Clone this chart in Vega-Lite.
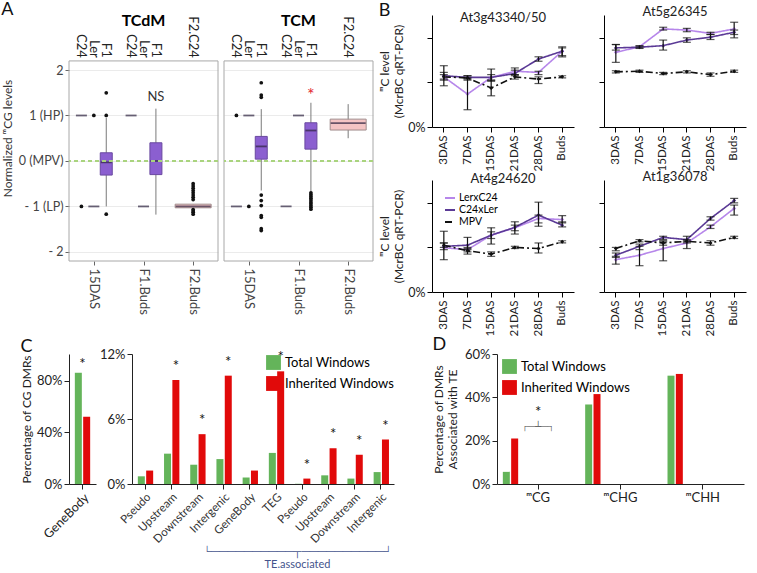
{
"$schema": "https://vega.github.io/schema/vega-lite/v6.json",
"background": "white",
"padding": 1,
"config": {
  "font": "Lato",
  "view": {"stroke": null},
  "axis": {"labelFont": "Lato", "titleFont": "Lato", "labelColor": "#222", "titleColor": "#222", "titleFontWeight": "normal", "grid": false, "domainColor": "#222", "tickColor": "#222", "labelOverlap": false, "labelFlush": false, "labelBound": false},
  "legend": {"labelFont": "Lato"},
  "title": {"font": "Lato", "fontWeight": "normal", "color": "#111"},
  "text": {"font": "Lato"}
},
"datasets": {
  "boxA": [
    {"panel": "TCdM", "key": "15DAS|C24", "geno": "C24", "lo": 1, "q1": 1, "med": 1, "q3": 1, "hi": 1},
    {"panel": "TCdM", "key": "15DAS|Ler", "geno": "Ler", "lo": -1, "q1": -1, "med": -1, "q3": -1, "hi": -1},
    {"panel": "TCdM", "key": "15DAS|F1", "geno": "F1", "lo": -1.0, "q1": -0.31, "med": -0.03, "q3": 0.18, "hi": 0.95},
    {"panel": "TCdM", "key": "F1.Buds|C24", "geno": "C24", "lo": 1, "q1": 1, "med": 1, "q3": 1, "hi": 1},
    {"panel": "TCdM", "key": "F1.Buds|Ler", "geno": "Ler", "lo": -1, "q1": -1, "med": -1, "q3": -1, "hi": -1},
    {"panel": "TCdM", "key": "F1.Buds|F1", "geno": "F1", "lo": -1.18, "q1": -0.3, "med": 0.0, "q3": 0.4, "hi": 1.15},
    {"panel": "TCdM", "key": "F2.Buds|F2.C24", "geno": "F2.C24", "lo": -1.03, "q1": -1.03, "med": -1.0, "q3": -0.95, "hi": -0.95},
    {"panel": "TCM", "key": "15DAS|C24", "geno": "C24", "lo": -1, "q1": -1, "med": -1, "q3": -1, "hi": -1},
    {"panel": "TCM", "key": "15DAS|Ler", "geno": "Ler", "lo": 1, "q1": 1, "med": 1, "q3": 1, "hi": 1},
    {"panel": "TCM", "key": "15DAS|F1", "geno": "F1", "lo": -0.65, "q1": 0.04, "med": 0.32, "q3": 0.54, "hi": 1.14},
    {"panel": "TCM", "key": "F1.Buds|C24", "geno": "C24", "lo": -1, "q1": -1, "med": -1, "q3": -1, "hi": -1},
    {"panel": "TCM", "key": "F1.Buds|Ler", "geno": "Ler", "lo": 1, "q1": 1, "med": 1, "q3": 1, "hi": 1},
    {"panel": "TCM", "key": "F1.Buds|F1", "geno": "F1", "lo": -0.68, "q1": 0.26, "med": 0.67, "q3": 0.84, "hi": 1.28},
    {"panel": "TCM", "key": "F2.Buds|F2.C24", "geno": "F2.C24", "lo": 0.5, "q1": 0.68, "med": 0.83, "q3": 0.92, "hi": 1.25}
  ],
  "outA": [
    {"panel": "TCdM", "key": "15DAS|C24", "v": -1},
    {"panel": "TCdM", "key": "15DAS|Ler", "v": 1},
    {"panel": "TCdM", "key": "15DAS|F1", "v": 1.5},
    {"panel": "TCdM", "key": "15DAS|F1", "v": 1.0},
    {"panel": "TCdM", "key": "15DAS|F1", "v": -1.17},
    {"panel": "TCdM", "key": "F2.Buds|F2.C24", "v": -0.5},
    {"panel": "TCdM", "key": "F2.Buds|F2.C24", "v": -0.55},
    {"panel": "TCdM", "key": "F2.Buds|F2.C24", "v": -0.6},
    {"panel": "TCdM", "key": "F2.Buds|F2.C24", "v": -0.65},
    {"panel": "TCdM", "key": "F2.Buds|F2.C24", "v": -0.7},
    {"panel": "TCdM", "key": "F2.Buds|F2.C24", "v": -0.75},
    {"panel": "TCdM", "key": "F2.Buds|F2.C24", "v": -0.8},
    {"panel": "TCdM", "key": "F2.Buds|F2.C24", "v": -0.85},
    {"panel": "TCdM", "key": "F2.Buds|F2.C24", "v": -1.07},
    {"panel": "TCdM", "key": "F2.Buds|F2.C24", "v": -1.1},
    {"panel": "TCdM", "key": "F2.Buds|F2.C24", "v": -1.13},
    {"panel": "TCdM", "key": "F2.Buds|F2.C24", "v": -1.17},
    {"panel": "TCM", "key": "15DAS|C24", "v": 1},
    {"panel": "TCM", "key": "15DAS|Ler", "v": -1},
    {"panel": "TCM", "key": "15DAS|F1", "v": 1.72},
    {"panel": "TCM", "key": "15DAS|F1", "v": 1.45},
    {"panel": "TCM", "key": "15DAS|F1", "v": 1.4},
    {"panel": "TCM", "key": "15DAS|F1", "v": -0.75},
    {"panel": "TCM", "key": "15DAS|F1", "v": -0.87},
    {"panel": "TCM", "key": "15DAS|F1", "v": -0.98},
    {"panel": "TCM", "key": "15DAS|F1", "v": -1.2},
    {"panel": "TCM", "key": "15DAS|F1", "v": -1.24},
    {"panel": "TCM", "key": "15DAS|F1", "v": -1.49},
    {"panel": "TCM", "key": "15DAS|F1", "v": -1.53},
    {"panel": "TCM", "key": "F1.Buds|F1", "v": -0.7},
    {"panel": "TCM", "key": "F1.Buds|F1", "v": -0.74},
    {"panel": "TCM", "key": "F1.Buds|F1", "v": -0.78},
    {"panel": "TCM", "key": "F1.Buds|F1", "v": -0.82},
    {"panel": "TCM", "key": "F1.Buds|F1", "v": -0.86},
    {"panel": "TCM", "key": "F1.Buds|F1", "v": -0.9},
    {"panel": "TCM", "key": "F1.Buds|F1", "v": -0.94},
    {"panel": "TCM", "key": "F1.Buds|F1", "v": -0.98},
    {"panel": "TCM", "key": "F1.Buds|F1", "v": -1.02},
    {"panel": "TCM", "key": "F1.Buds|F1", "v": -1.06}
  ],
  "annA": [
    {"panel": "TCdM", "key": "F1.Buds|F1", "v": 1.4, "label": "NS"},
    {"panel": "TCM", "key": "F1.Buds|F1", "v": 1.42, "label": "*"}
  ],
  "lines": [
    {"gene": "At3g43340/50", "stage": "3DAS", "series": "LerxC24", "v": 45, "lo": 37, "hi": 55},
    {"gene": "At3g43340/50", "stage": "7DAS", "series": "LerxC24", "v": 29.5, "lo": 15.5, "hi": 44},
    {"gene": "At3g43340/50", "stage": "15DAS", "series": "LerxC24", "v": 44.5, "lo": 41, "hi": 52},
    {"gene": "At3g43340/50", "stage": "21DAS", "series": "LerxC24", "v": 50, "lo": 47, "hi": 53},
    {"gene": "At3g43340/50", "stage": "28DAS", "series": "LerxC24", "v": 49, "lo": 47, "hi": 50},
    {"gene": "At3g43340/50", "stage": "Buds", "series": "LerxC24", "v": 68, "lo": 63, "hi": 72},
    {"gene": "At3g43340/50", "stage": "3DAS", "series": "C24xLer", "v": 46, "lo": 42, "hi": 49},
    {"gene": "At3g43340/50", "stage": "7DAS", "series": "C24xLer", "v": 44.5, "lo": 43, "hi": 46},
    {"gene": "At3g43340/50", "stage": "15DAS", "series": "C24xLer", "v": 44.5, "lo": 42, "hi": 47},
    {"gene": "At3g43340/50", "stage": "21DAS", "series": "C24xLer", "v": 48, "lo": 46, "hi": 51},
    {"gene": "At3g43340/50", "stage": "28DAS", "series": "C24xLer", "v": 61, "lo": 59, "hi": 63},
    {"gene": "At3g43340/50", "stage": "Buds", "series": "C24xLer", "v": 68, "lo": 64, "hi": 71},
    {"gene": "At3g43340/50", "stage": "3DAS", "series": "MPV", "v": 45, "lo": 43, "hi": 47},
    {"gene": "At3g43340/50", "stage": "7DAS", "series": "MPV", "v": 44, "lo": 42, "hi": 46},
    {"gene": "At3g43340/50", "stage": "15DAS", "series": "MPV", "v": 35, "lo": 28, "hi": 42},
    {"gene": "At3g43340/50", "stage": "21DAS", "series": "MPV", "v": 45, "lo": 43, "hi": 47},
    {"gene": "At3g43340/50", "stage": "28DAS", "series": "MPV", "v": 43, "lo": 39, "hi": 45},
    {"gene": "At3g43340/50", "stage": "Buds", "series": "MPV", "v": 45, "lo": 44, "hi": 46},
    {"gene": "At5g26345", "stage": "3DAS", "series": "LerxC24", "v": 67, "lo": 58, "hi": 74},
    {"gene": "At5g26345", "stage": "7DAS", "series": "LerxC24", "v": 72, "lo": 71, "hi": 73},
    {"gene": "At5g26345", "stage": "15DAS", "series": "LerxC24", "v": 88, "lo": 87, "hi": 89.5},
    {"gene": "At5g26345", "stage": "21DAS", "series": "LerxC24", "v": 87, "lo": 85.5, "hi": 88.5},
    {"gene": "At5g26345", "stage": "28DAS", "series": "LerxC24", "v": 84, "lo": 83, "hi": 85},
    {"gene": "At5g26345", "stage": "Buds", "series": "LerxC24", "v": 88, "lo": 80, "hi": 94},
    {"gene": "At5g26345", "stage": "3DAS", "series": "C24xLer", "v": 71, "lo": 69, "hi": 74},
    {"gene": "At5g26345", "stage": "7DAS", "series": "C24xLer", "v": 71.6, "lo": 70.5, "hi": 72.5},
    {"gene": "At5g26345", "stage": "15DAS", "series": "C24xLer", "v": 73, "lo": 69, "hi": 78},
    {"gene": "At5g26345", "stage": "21DAS", "series": "C24xLer", "v": 78, "lo": 76, "hi": 80},
    {"gene": "At5g26345", "stage": "28DAS", "series": "C24xLer", "v": 80.6, "lo": 78.5, "hi": 83},
    {"gene": "At5g26345", "stage": "Buds", "series": "C24xLer", "v": 85, "lo": 83, "hi": 87},
    {"gene": "At5g26345", "stage": "3DAS", "series": "MPV", "v": 49.5, "lo": 48.5, "hi": 50.5},
    {"gene": "At5g26345", "stage": "7DAS", "series": "MPV", "v": 50, "lo": 49, "hi": 51},
    {"gene": "At5g26345", "stage": "15DAS", "series": "MPV", "v": 48, "lo": 47, "hi": 49},
    {"gene": "At5g26345", "stage": "21DAS", "series": "MPV", "v": 49.5, "lo": 48.5, "hi": 50.5},
    {"gene": "At5g26345", "stage": "28DAS", "series": "MPV", "v": 47, "lo": 45.5, "hi": 48.5},
    {"gene": "At5g26345", "stage": "Buds", "series": "MPV", "v": 50, "lo": 49, "hi": 51},
    {"gene": "At4g24620", "stage": "3DAS", "series": "LerxC24", "v": 39.7, "lo": 29, "hi": 44},
    {"gene": "At4g24620", "stage": "7DAS", "series": "LerxC24", "v": 38, "lo": 36, "hi": 40},
    {"gene": "At4g24620", "stage": "15DAS", "series": "LerxC24", "v": 51, "lo": 43, "hi": 57.6},
    {"gene": "At4g24620", "stage": "21DAS", "series": "LerxC24", "v": 57.6, "lo": 52, "hi": 60},
    {"gene": "At4g24620", "stage": "28DAS", "series": "LerxC24", "v": 66, "lo": 59, "hi": 69},
    {"gene": "At4g24620", "stage": "Buds", "series": "LerxC24", "v": 65, "lo": 62, "hi": 68.5},
    {"gene": "At4g24620", "stage": "3DAS", "series": "C24xLer", "v": 41, "lo": 38, "hi": 54.5},
    {"gene": "At4g24620", "stage": "7DAS", "series": "C24xLer", "v": 42, "lo": 38, "hi": 49},
    {"gene": "At4g24620", "stage": "15DAS", "series": "C24xLer", "v": 51, "lo": 48, "hi": 54},
    {"gene": "At4g24620", "stage": "21DAS", "series": "C24xLer", "v": 58, "lo": 55, "hi": 63},
    {"gene": "At4g24620", "stage": "28DAS", "series": "C24xLer", "v": 69, "lo": 62, "hi": 80.6},
    {"gene": "At4g24620", "stage": "Buds", "series": "C24xLer", "v": 60, "lo": 58.5, "hi": 63},
    {"gene": "At4g24620", "stage": "3DAS", "series": "MPV", "v": 42, "lo": 40, "hi": 44},
    {"gene": "At4g24620", "stage": "7DAS", "series": "MPV", "v": 37, "lo": 34, "hi": 39},
    {"gene": "At4g24620", "stage": "15DAS", "series": "MPV", "v": 34, "lo": 32, "hi": 36},
    {"gene": "At4g24620", "stage": "21DAS", "series": "MPV", "v": 40, "lo": 39, "hi": 41},
    {"gene": "At4g24620", "stage": "28DAS", "series": "MPV", "v": 39, "lo": 35, "hi": 44},
    {"gene": "At4g24620", "stage": "Buds", "series": "MPV", "v": 45, "lo": 44, "hi": 46},
    {"gene": "At1g36078", "stage": "3DAS", "series": "LerxC24", "v": 29, "lo": 25, "hi": 32},
    {"gene": "At1g36078", "stage": "7DAS", "series": "LerxC24", "v": 33, "lo": 23.6, "hi": 41},
    {"gene": "At1g36078", "stage": "15DAS", "series": "LerxC24", "v": 39, "lo": 28, "hi": 45},
    {"gene": "At1g36078", "stage": "21DAS", "series": "LerxC24", "v": 44, "lo": 39, "hi": 46},
    {"gene": "At1g36078", "stage": "28DAS", "series": "LerxC24", "v": 58.5, "lo": 57, "hi": 60},
    {"gene": "At1g36078", "stage": "Buds", "series": "LerxC24", "v": 75, "lo": 69, "hi": 78},
    {"gene": "At1g36078", "stage": "3DAS", "series": "C24xLer", "v": 33, "lo": 31, "hi": 35},
    {"gene": "At1g36078", "stage": "7DAS", "series": "C24xLer", "v": 41, "lo": 38, "hi": 43},
    {"gene": "At1g36078", "stage": "15DAS", "series": "C24xLer", "v": 49, "lo": 47, "hi": 50},
    {"gene": "At1g36078", "stage": "21DAS", "series": "C24xLer", "v": 47, "lo": 45, "hi": 50},
    {"gene": "At1g36078", "stage": "28DAS", "series": "C24xLer", "v": 66, "lo": 64.5, "hi": 67.5},
    {"gene": "At1g36078", "stage": "Buds", "series": "C24xLer", "v": 82, "lo": 80, "hi": 84},
    {"gene": "At1g36078", "stage": "3DAS", "series": "MPV", "v": 39, "lo": 37, "hi": 40},
    {"gene": "At1g36078", "stage": "7DAS", "series": "MPV", "v": 46, "lo": 45, "hi": 47},
    {"gene": "At1g36078", "stage": "15DAS", "series": "MPV", "v": 44, "lo": 42, "hi": 46},
    {"gene": "At1g36078", "stage": "21DAS", "series": "MPV", "v": 45.5, "lo": 44, "hi": 47},
    {"gene": "At1g36078", "stage": "28DAS", "series": "MPV", "v": 44, "lo": 42, "hi": 46},
    {"gene": "At1g36078", "stage": "Buds", "series": "MPV", "v": 49, "lo": 48, "hi": 50}
  ],
  "cgb": [
    {"region": "GeneBody", "type": "Total Windows", "pct": 86, "sig": true},
    {"region": "GeneBody", "type": "Inherited Windows", "pct": 52, "sig": true}
  ],
  "regions": [
    {"region": "Pseudo", "type": "Total Windows", "pct": 0.71, "sig": false},
    {"region": "Pseudo", "type": "Inherited Windows", "pct": 1.24, "sig": false},
    {"region": "Upstream", "type": "Total Windows", "pct": 2.8, "sig": true},
    {"region": "Upstream", "type": "Inherited Windows", "pct": 9.6, "sig": true},
    {"region": "Downstream", "type": "Total Windows", "pct": 1.78, "sig": true},
    {"region": "Downstream", "type": "Inherited Windows", "pct": 4.6, "sig": true},
    {"region": "Intergenic", "type": "Total Windows", "pct": 2.3, "sig": true},
    {"region": "Intergenic", "type": "Inherited Windows", "pct": 10.0, "sig": true},
    {"region": "TE.GeneBody", "type": "Total Windows", "pct": 0.6, "sig": false},
    {"region": "TE.GeneBody", "type": "Inherited Windows", "pct": 1.24, "sig": false},
    {"region": "TE.TEG", "type": "Total Windows", "pct": 2.87, "sig": true},
    {"region": "TE.TEG", "type": "Inherited Windows", "pct": 10.4, "sig": true},
    {"region": "TE.Pseudo", "type": "Total Windows", "pct": 0.02, "sig": true},
    {"region": "TE.Pseudo", "type": "Inherited Windows", "pct": 0.5, "sig": true},
    {"region": "TE.Upstream", "type": "Total Windows", "pct": 0.8, "sig": true},
    {"region": "TE.Upstream", "type": "Inherited Windows", "pct": 3.3, "sig": true},
    {"region": "TE.Downstream", "type": "Total Windows", "pct": 0.5, "sig": true},
    {"region": "TE.Downstream", "type": "Inherited Windows", "pct": 2.7, "sig": true},
    {"region": "TE.Intergenic", "type": "Total Windows", "pct": 1.1, "sig": true},
    {"region": "TE.Intergenic", "type": "Inherited Windows", "pct": 4.1, "sig": true}
  ],
  "dmr": [
    {"cat": "ᵐCG", "type": "Total Windows", "pct": 5.6, "sig": true},
    {"cat": "ᵐCG", "type": "Inherited Windows", "pct": 21, "sig": true},
    {"cat": "ᵐCHG", "type": "Total Windows", "pct": 36.7, "sig": false},
    {"cat": "ᵐCHG", "type": "Inherited Windows", "pct": 41.5, "sig": false},
    {"cat": "ᵐCHH", "type": "Total Windows", "pct": 50, "sig": false},
    {"cat": "ᵐCHH", "type": "Inherited Windows", "pct": 50.8, "sig": false}
  ]
},
"spacing": 0,
"resolve": {"scale": {"color": "independent", "fill": "independent", "strokeDash": "independent"}, "legend": {"color": "independent", "fill": "independent", "strokeDash": "independent"}},
"vconcat": [
 {
  "spacing": 4,
  "resolve": {"scale": {"color": "independent", "fill": "independent", "strokeDash": "independent"}, "legend": {"color": "independent", "fill": "independent", "strokeDash": "independent"}},
  "hconcat": [
   {
    "title": {"text": "A", "anchor": "start", "fontSize": 18, "offset": -6},
    "spacing": 4,
    "hconcat": [
     {
      "width": 149, "height": 246,
      "title": {"text": "TCdM", "fontSize": 16, "fontWeight": "bold", "color": "#000", "offset": -14},
      "layer": [
       {"data": {"name": "boxA"}, "transform": [{"filter": "datum.panel == 'TCdM'"}],
        "mark": {"type": "rule", "color": "#7a7a7a", "strokeWidth": 1},
        "encoding": {
         "x": {"field": "key", "type": "nominal", "scale": {"type": "point", "domain": ["15DAS|C24","15DAS|Ler","15DAS|F1","s1","F1.Buds|C24","F1.Buds|Ler","F1.Buds|F1","s2","s3","F2.Buds|F2.C24","s4"], "padding": 1.25},
               "axis": {"orient": "bottom", "values": ["15DAS|Ler","F1.Buds|Ler","F2.Buds|F2.C24"], "labelExpr": "split(datum.value, '|')[0]", "labelAngle": 90, "title": null, "domain": false, "tickSize": 4, "tickColor": "#666", "labelFontSize": 13, "labelColor": "#444", "labelPadding": 3}},
         "y": {"field": "lo", "type": "quantitative", "scale": {"domain": [-2.2, 3.21], "nice": false, "zero": false},
               "axis": {"values": [-2, -1, 0, 1, 2], "labelExpr": "datum.value == 2 ? '2' : datum.value == 1 ? '1 (HP)' : datum.value == 0 ? '0 (MPV)' : datum.value == -1 ? '- 1 (LP)' : '- 2'", "grid": true, "gridColor": "#ebebeb", "domain": false, "tickSize": 4, "tickColor": "#666", "labelFontSize": 12.5, "labelColor": "#444", "labelPadding": 2, "title": "Normalized ᵐCG levels", "titleFontSize": 12, "titleColor": "#333", "titlePadding": 4}},
         "y2": {"field": "hi"}
        }},
       {"data": {"name": "boxA"}, "transform": [{"filter": "datum.panel == 'TCdM' && datum.key == '15DAS|C24'"}],
        "mark": {"type": "rect", "fillOpacity": 0, "stroke": "#a8a8a8", "strokeWidth": 1},
        "encoding": {"y": {"datum": -2.2, "type": "quantitative"}, "y2": {"datum": 2.2}}},
       {"data": {"name": "boxA"}, "transform": [{"filter": "datum.panel == 'TCdM' && datum.geno == 'F1'"}],
        "mark": {"type": "bar", "width": 12, "fill": "#8b5fd0", "stroke": "#6a49a0", "strokeWidth": 1},
        "encoding": {"x": {"field": "key", "type": "nominal"}, "y": {"field": "q1", "type": "quantitative"}, "y2": {"field": "q3"}}},
       {"data": {"name": "boxA"}, "transform": [{"filter": "datum.panel == 'TCdM' && datum.geno == 'F2.C24'"}],
        "mark": {"type": "bar", "width": 36, "fill": "#f4c4c4", "stroke": "#a08c8c", "strokeWidth": 1},
        "encoding": {"x": {"field": "key", "type": "nominal"}, "y": {"field": "q1", "type": "quantitative"}, "y2": {"field": "q3"}}},
       {"data": {"name": "boxA"}, "transform": [{"filter": "datum.panel == 'TCdM' && datum.geno != 'F2.C24'"}],
        "mark": {"type": "tick", "size": 11, "thickness": 1.8, "color": "#2e2440"},
        "encoding": {"x": {"field": "key", "type": "nominal"}, "y": {"field": "med", "type": "quantitative"}}},
       {"data": {"name": "boxA"}, "transform": [{"filter": "datum.panel == 'TCdM' && datum.geno == 'F2.C24'"}],
        "mark": {"type": "tick", "size": 35, "thickness": 1.8, "color": "#2e2440"},
        "encoding": {"x": {"field": "key", "type": "nominal"}, "y": {"field": "med", "type": "quantitative"}}},
       {"data": {"name": "boxA"}, "transform": [{"filter": "datum.panel == 'TCdM'"}],
        "mark": {"type": "rule", "color": "#a9d47f", "strokeDash": [4, 3], "strokeWidth": 1.2},
        "encoding": {"y": {"datum": 0, "type": "quantitative"}}},
       {"data": {"name": "outA"}, "transform": [{"filter": "datum.panel == 'TCdM'"}],
        "mark": {"type": "point", "filled": true, "size": 14, "color": "#111", "opacity": 1},
        "encoding": {"x": {"field": "key", "type": "nominal"}, "y": {"field": "v", "type": "quantitative"}}},
       {"data": {"name": "boxA"}, "transform": [{"filter": "datum.panel == 'TCdM'"}],
        "mark": {"type": "text", "angle": 90, "align": "right", "baseline": "middle", "fontSize": 13, "color": "#222"},
        "encoding": {"x": {"field": "key", "type": "nominal"}, "y": {"datum": 2.27, "type": "quantitative"}, "text": {"field": "geno"}}},
       {"data": {"name": "annA"}, "transform": [{"filter": "datum.panel == 'TCdM'"}],
        "mark": {"type": "text", "baseline": "middle", "fontSize": 13, "color": "#333"},
        "encoding": {"x": {"field": "key", "type": "nominal"}, "y": {"field": "v", "type": "quantitative"}, "text": {"field": "label"}}}
      ]
     },
     {
      "width": 149, "height": 246,
      "title": {"text": "TCM", "fontSize": 16, "fontWeight": "bold", "color": "#000", "offset": -14},
      "layer": [
       {"data": {"name": "boxA"}, "transform": [{"filter": "datum.panel == 'TCM'"}],
        "mark": {"type": "rule", "color": "#7a7a7a", "strokeWidth": 1},
        "encoding": {
         "x": {"field": "key", "type": "nominal", "scale": {"type": "point", "domain": ["15DAS|C24","15DAS|Ler","15DAS|F1","s1","F1.Buds|C24","F1.Buds|Ler","F1.Buds|F1","s2","s3","F2.Buds|F2.C24","s4"], "padding": 1.25},
               "axis": {"orient": "bottom", "values": ["15DAS|Ler","F1.Buds|Ler","F2.Buds|F2.C24"], "labelExpr": "split(datum.value, '|')[0]", "labelAngle": 90, "title": null, "domain": false, "tickSize": 4, "tickColor": "#666", "labelFontSize": 13, "labelColor": "#444", "labelPadding": 3}},
         "y": {"field": "lo", "type": "quantitative", "scale": {"domain": [-2.2, 3.21], "nice": false, "zero": false},
               "axis": {"values": [-2, -1, 0, 1, 2], "grid": true, "gridColor": "#ebebeb", "domain": false, "ticks": false, "labels": false, "title": null}},
         "y2": {"field": "hi"}
        }},
       {"data": {"name": "boxA"}, "transform": [{"filter": "datum.panel == 'TCM' && datum.key == '15DAS|C24'"}],
        "mark": {"type": "rect", "fillOpacity": 0, "stroke": "#a8a8a8", "strokeWidth": 1},
        "encoding": {"y": {"datum": -2.2, "type": "quantitative"}, "y2": {"datum": 2.2}}},
       {"data": {"name": "boxA"}, "transform": [{"filter": "datum.panel == 'TCM' && datum.geno == 'F1'"}],
        "mark": {"type": "bar", "width": 12, "fill": "#8b5fd0", "stroke": "#6a49a0", "strokeWidth": 1},
        "encoding": {"x": {"field": "key", "type": "nominal"}, "y": {"field": "q1", "type": "quantitative"}, "y2": {"field": "q3"}}},
       {"data": {"name": "boxA"}, "transform": [{"filter": "datum.panel == 'TCM' && datum.geno == 'F2.C24'"}],
        "mark": {"type": "bar", "width": 36, "fill": "#f4c4c4", "stroke": "#a08c8c", "strokeWidth": 1},
        "encoding": {"x": {"field": "key", "type": "nominal"}, "y": {"field": "q1", "type": "quantitative"}, "y2": {"field": "q3"}}},
       {"data": {"name": "boxA"}, "transform": [{"filter": "datum.panel == 'TCM' && datum.geno != 'F2.C24'"}],
        "mark": {"type": "tick", "size": 11, "thickness": 1.8, "color": "#2e2440"},
        "encoding": {"x": {"field": "key", "type": "nominal"}, "y": {"field": "med", "type": "quantitative"}}},
       {"data": {"name": "boxA"}, "transform": [{"filter": "datum.panel == 'TCM' && datum.geno == 'F2.C24'"}],
        "mark": {"type": "tick", "size": 35, "thickness": 1.8, "color": "#2e2440"},
        "encoding": {"x": {"field": "key", "type": "nominal"}, "y": {"field": "med", "type": "quantitative"}}},
       {"data": {"name": "boxA"}, "transform": [{"filter": "datum.panel == 'TCM'"}],
        "mark": {"type": "rule", "color": "#a9d47f", "strokeDash": [4, 3], "strokeWidth": 1.2},
        "encoding": {"y": {"datum": 0, "type": "quantitative"}}},
       {"data": {"name": "outA"}, "transform": [{"filter": "datum.panel == 'TCM'"}],
        "mark": {"type": "point", "filled": true, "size": 14, "color": "#111", "opacity": 1},
        "encoding": {"x": {"field": "key", "type": "nominal"}, "y": {"field": "v", "type": "quantitative"}}},
       {"data": {"name": "boxA"}, "transform": [{"filter": "datum.panel == 'TCM'"}],
        "mark": {"type": "text", "angle": 90, "align": "right", "baseline": "middle", "fontSize": 13, "color": "#222"},
        "encoding": {"x": {"field": "key", "type": "nominal"}, "y": {"datum": 2.27, "type": "quantitative"}, "text": {"field": "geno"}}},
       {"data": {"name": "annA"}, "transform": [{"filter": "datum.panel == 'TCM'"}],
        "mark": {"type": "text", "baseline": "middle", "fontSize": 18, "color": "#e3262e"},
        "encoding": {"x": {"field": "key", "type": "nominal"}, "y": {"field": "v", "type": "quantitative"}, "text": {"field": "label"}}}
      ]
     }
    ]
   },
   {
    "title": {"text": "B", "anchor": "start", "fontSize": 18, "offset": -14},
    "spacing": 0,
    "resolve": {"scale": {"color": "independent", "strokeDash": "independent"}, "legend": {"color": "independent", "strokeDash": "independent"}},
    "vconcat": [
     {
      "spacing": 24,
      "resolve": {"scale": {"color": "independent", "strokeDash": "independent"}, "legend": {"color": "independent", "strokeDash": "independent"}},
      "hconcat": [
       {
        "width": 142, "height": 112,
        "title": {"text": "At3g43340/50", "fontSize": 13, "color": "#222", "offset": -10},
        "data": {"name": "lines"},
        "transform": [{"filter": "datum.gene == 'At3g43340/50'"}],
        "encoding": {"x": {"field": "stage", "type": "ordinal", "sort": ["3DAS","7DAS","15DAS","21DAS","28DAS","Buds"], "scale": {"paddingInner": 0, "paddingOuter": 0}, "axis": {"title": null, "labelAngle": -90, "labelFontSize": 11.5, "domainColor": "#000", "tickColor": "#000", "tickSize": 5, "labelPadding": 3}}},
        "layer": [
         {"mark": {"type": "line", "strokeWidth": 1.6},
          "encoding": {
           "y": {"field": "v", "type": "quantitative", "scale": {"domain": [0, 100.5], "nice": false}, "axis": {"values": [0, 20, 40, 60, 80, 100], "labelExpr": "datum.value == 0 || datum.value == 100 ? datum.value + '%' : ''", "title": ["ᵐC level", "(McrBC qRT-PCR)"], "titleFontSize": 12, "titlePadding": 2, "labelPadding": 2, "tickSize": 5, "domainColor": "#000", "tickColor": "#000", "labelFontSize": 12.5}},
           "color": {"field": "series", "type": "nominal", "scale": {"domain": ["LerxC24", "C24xLer", "MPV"], "range": ["#b686ea", "#5b3a96", "#111111"]}, "legend": null},
           "strokeDash": {"field": "series", "type": "nominal", "scale": {"domain": ["LerxC24", "C24xLer", "MPV"], "range": [[1, 0], [1, 0], [7, 3, 2, 3]]}, "legend": null}
          }},
         {"mark": {"type": "point", "filled": true, "size": 16, "shape": "diamond", "opacity": 1},
          "encoding": {"y": {"field": "v", "type": "quantitative"}, "color": {"field": "series", "type": "nominal", "legend": null}}},
         {"mark": {"type": "rule", "color": "#111", "strokeWidth": 1.2},
          "encoding": {"y": {"field": "lo", "type": "quantitative"}, "y2": {"field": "hi"}}},
         {"mark": {"type": "tick", "color": "#111", "size": 8, "thickness": 1.2},
          "encoding": {"y": {"field": "lo", "type": "quantitative"}}},
         {"mark": {"type": "tick", "color": "#111", "size": 8, "thickness": 1.2},
          "encoding": {"y": {"field": "hi", "type": "quantitative"}}}
        ]
       },
       {
        "width": 142, "height": 112,
        "title": {"text": "At5g26345", "fontSize": 13, "color": "#222", "offset": -4},
        "data": {"name": "lines"},
        "transform": [{"filter": "datum.gene == 'At5g26345'"}],
        "encoding": {"x": {"field": "stage", "type": "ordinal", "sort": ["3DAS","7DAS","15DAS","21DAS","28DAS","Buds"], "scale": {"paddingInner": 0, "paddingOuter": 0}, "axis": {"title": null, "labelAngle": -90, "labelFontSize": 11.5, "domainColor": "#000", "tickColor": "#000", "tickSize": 5, "labelPadding": 3}}},
        "layer": [
         {"mark": {"type": "line", "strokeWidth": 1.6},
          "encoding": {
           "y": {"field": "v", "type": "quantitative", "scale": {"domain": [0, 100.5], "nice": false}, "axis": {"values": [0, 20, 40, 60, 80, 100], "labels": false, "title": null, "tickSize": 5, "domainColor": "#000", "tickColor": "#000"}},
           "color": {"field": "series", "type": "nominal", "scale": {"domain": ["LerxC24", "C24xLer", "MPV"], "range": ["#b686ea", "#5b3a96", "#111111"]}, "legend": null},
           "strokeDash": {"field": "series", "type": "nominal", "scale": {"domain": ["LerxC24", "C24xLer", "MPV"], "range": [[1, 0], [1, 0], [7, 3, 2, 3]]}, "legend": null}
          }},
         {"mark": {"type": "point", "filled": true, "size": 16, "shape": "diamond", "opacity": 1},
          "encoding": {"y": {"field": "v", "type": "quantitative"}, "color": {"field": "series", "type": "nominal", "legend": null}}},
         {"mark": {"type": "rule", "color": "#111", "strokeWidth": 1.2},
          "encoding": {"y": {"field": "lo", "type": "quantitative"}, "y2": {"field": "hi"}}},
         {"mark": {"type": "tick", "color": "#111", "size": 8, "thickness": 1.2},
          "encoding": {"y": {"field": "lo", "type": "quantitative"}}},
         {"mark": {"type": "tick", "color": "#111", "size": 8, "thickness": 1.2},
          "encoding": {"y": {"field": "hi", "type": "quantitative"}}}
        ]
       }
      ]
     },
     {
      "spacing": 24,
      "resolve": {"scale": {"color": "independent", "strokeDash": "independent"}, "legend": {"color": "independent", "strokeDash": "independent"}},
      "hconcat": [
       {
        "width": 142, "height": 112,
        "title": {"text": "At4g24620", "fontSize": 13, "color": "#222", "offset": -6},
        "data": {"name": "lines"},
        "transform": [{"filter": "datum.gene == 'At4g24620'"}],
        "encoding": {"x": {"field": "stage", "type": "ordinal", "sort": ["3DAS","7DAS","15DAS","21DAS","28DAS","Buds"], "scale": {"paddingInner": 0, "paddingOuter": 0}, "axis": {"title": null, "labelAngle": -90, "labelFontSize": 11.5, "domainColor": "#000", "tickColor": "#000", "tickSize": 5, "labelPadding": 3}}},
        "layer": [
         {"mark": {"type": "line", "strokeWidth": 1.6},
          "encoding": {
           "y": {"field": "v", "type": "quantitative", "scale": {"domain": [0, 100.5], "nice": false}, "axis": {"values": [0, 20, 40, 60, 80, 100], "labelExpr": "datum.value == 0 || datum.value == 100 ? datum.value + '%' : ''", "title": ["ᵐC level", "(McrBC qRT-PCR)"], "titleFontSize": 12, "titlePadding": 2, "labelPadding": 2, "tickSize": 5, "domainColor": "#000", "tickColor": "#000", "labelFontSize": 12.5}},
           "color": {"field": "series", "type": "nominal", "scale": {"domain": ["LerxC24", "C24xLer", "MPV"], "range": ["#b686ea", "#5b3a96", "#111111"]},
                     "legend": {"title": null, "orient": "top-left", "offset": 12, "symbolType": "stroke", "symbolStrokeWidth": 2, "labelFontSize": 10.5, "rowPadding": 0, "labelOffset": 3, "padding": 0}},
           "strokeDash": {"field": "series", "type": "nominal", "scale": {"domain": ["LerxC24", "C24xLer", "MPV"], "range": [[1, 0], [1, 0], [7, 3, 2, 3]]},
                     "legend": {"title": null, "orient": "top-left", "offset": 12, "symbolType": "stroke", "symbolStrokeWidth": 2, "labelFontSize": 10.5, "rowPadding": 0, "labelOffset": 3, "padding": 0}}
          }},
         {"mark": {"type": "point", "filled": true, "size": 16, "shape": "diamond", "opacity": 1},
          "encoding": {"y": {"field": "v", "type": "quantitative"}, "color": {"field": "series", "type": "nominal", "legend": null}}},
         {"mark": {"type": "rule", "color": "#111", "strokeWidth": 1.2},
          "encoding": {"y": {"field": "lo", "type": "quantitative"}, "y2": {"field": "hi"}}},
         {"mark": {"type": "tick", "color": "#111", "size": 8, "thickness": 1.2},
          "encoding": {"y": {"field": "lo", "type": "quantitative"}}},
         {"mark": {"type": "tick", "color": "#111", "size": 8, "thickness": 1.2},
          "encoding": {"y": {"field": "hi", "type": "quantitative"}}}
        ]
       },
       {
        "width": 142, "height": 112,
        "title": {"text": "At1g36078", "fontSize": 13, "color": "#222", "offset": -4},
        "data": {"name": "lines"},
        "transform": [{"filter": "datum.gene == 'At1g36078'"}],
        "encoding": {"x": {"field": "stage", "type": "ordinal", "sort": ["3DAS","7DAS","15DAS","21DAS","28DAS","Buds"], "scale": {"paddingInner": 0, "paddingOuter": 0}, "axis": {"title": null, "labelAngle": -90, "labelFontSize": 11.5, "domainColor": "#000", "tickColor": "#000", "tickSize": 5, "labelPadding": 3}}},
        "layer": [
         {"mark": {"type": "line", "strokeWidth": 1.6},
          "encoding": {
           "y": {"field": "v", "type": "quantitative", "scale": {"domain": [0, 100.5], "nice": false}, "axis": {"values": [0, 20, 40, 60, 80, 100], "labels": false, "title": null, "tickSize": 5, "domainColor": "#000", "tickColor": "#000"}},
           "color": {"field": "series", "type": "nominal", "scale": {"domain": ["LerxC24", "C24xLer", "MPV"], "range": ["#b686ea", "#5b3a96", "#111111"]}, "legend": null},
           "strokeDash": {"field": "series", "type": "nominal", "scale": {"domain": ["LerxC24", "C24xLer", "MPV"], "range": [[1, 0], [1, 0], [7, 3, 2, 3]]}, "legend": null}
          }},
         {"mark": {"type": "point", "filled": true, "size": 16, "shape": "diamond", "opacity": 1},
          "encoding": {"y": {"field": "v", "type": "quantitative"}, "color": {"field": "series", "type": "nominal", "legend": null}}},
         {"mark": {"type": "rule", "color": "#111", "strokeWidth": 1.2},
          "encoding": {"y": {"field": "lo", "type": "quantitative"}, "y2": {"field": "hi"}}},
         {"mark": {"type": "tick", "color": "#111", "size": 8, "thickness": 1.2},
          "encoding": {"y": {"field": "lo", "type": "quantitative"}}},
         {"mark": {"type": "tick", "color": "#111", "size": 8, "thickness": 1.2},
          "encoding": {"y": {"field": "hi", "type": "quantitative"}}}
        ]
       }
      ]
     }
    ]
   }
  ]
 },
 {
  "spacing": 38,
  "resolve": {"scale": {"fill": "independent"}, "legend": {"fill": "independent"}},
  "hconcat": [
   {
    "title": {"text": "C", "anchor": "start", "fontSize": 18, "offset": -8},
    "spacing": 3,
    "resolve": {"scale": {"fill": "independent"}, "legend": {"fill": "independent"}},
    "hconcat": [
     {
      "width": 27, "height": 130,
      "data": {"name": "cgb"},
      "layer": [
       {"mark": {"type": "bar"},
        "encoding": {
         "x": {"field": "region", "type": "nominal", "scale": {"paddingInner": 0, "paddingOuter": 0}, "axis": {"title": null, "labelAngle": -45, "labelFontSize": 12.5, "tickSize": 5}},
         "xOffset": {"field": "type", "type": "nominal", "scale": {"domain": ["Total Windows", "Inherited Windows"], "paddingInner": 0.16, "paddingOuter": 0.7}},
         "y": {"field": "pct", "type": "quantitative", "scale": {"domain": [0, 100.5], "nice": false}, "axis": {"values": [0, 20, 40, 60, 80, 100], "labelExpr": "datum.value + '%'", "title": "Percentage of CG DMRs", "titleFontSize": 12, "titlePadding": 3, "labelFontSize": 13, "labelPadding": 2, "tickSize": 5}},
         "fill": {"field": "type", "type": "nominal", "scale": {"domain": ["Total Windows", "Inherited Windows"], "range": ["#64b45a", "#e10a0a"]}, "legend": null}
        }},
       {"transform": [{"filter": "datum.sig"}, {"aggregate": [{"op": "max", "field": "pct", "as": "top"}], "groupby": ["region"]}],
        "mark": {"type": "text", "text": "*", "fontSize": 15, "dy": -9, "color": "#111"},
        "encoding": {"x": {"field": "region", "type": "nominal"}, "y": {"field": "top", "type": "quantitative"}}}
      ]
     },
     {
      "width": 262, "height": 130,
      "data": {"name": "regions"},
      "layer": [
       {"mark": {"type": "bar"},
        "encoding": {
         "x": {"field": "region", "type": "nominal", "sort": ["Pseudo","Upstream","Downstream","Intergenic","TE.GeneBody","TE.TEG","TE.Pseudo","TE.Upstream","TE.Downstream","TE.Intergenic"], "scale": {"paddingInner": 0, "paddingOuter": 0},
               "axis": {"title": ["└──────────┬──────────┘", "TE.associated"], "titleX": 165, "titleColor": "#44548c", "titleFontSize": 11, "titleLineHeight": 12.5, "titlePadding": 1, "labelAngle": -45, "labelExpr": "replace(datum.label, 'TE.', '')", "labelFontSize": 11.5, "labelColor": "#333", "tickSize": 5}},
         "xOffset": {"field": "type", "type": "nominal", "scale": {"domain": ["Total Windows", "Inherited Windows"], "paddingInner": 0.2, "paddingOuter": 0.83}},
         "y": {"field": "pct", "type": "quantitative", "scale": {"domain": [0, 12], "nice": false}, "axis": {"values": [0, 3, 6, 9, 12], "labelExpr": "datum.value + '%'", "title": null, "labelFontSize": 13, "labelPadding": 2, "tickSize": 5}},
         "fill": {"field": "type", "type": "nominal", "scale": {"domain": ["Total Windows", "Inherited Windows"], "range": ["#64b45a", "#e10a0a"]},
                  "legend": {"title": null, "orient": "top-right", "offset": 0, "symbolType": "square", "symbolSize": 220, "labelFontSize": 13, "rowPadding": 5, "labelOffset": 3, "padding": 0}}
        }},
       {"transform": [{"filter": "datum.sig && datum.type == 'Inherited Windows'"}],
        "mark": {"type": "text", "text": "*", "fontSize": 15, "dy": -14, "color": "#111"},
        "encoding": {"x": {"field": "region", "type": "nominal", "sort": ["Pseudo","Upstream","Downstream","Intergenic","TE.GeneBody","TE.TEG","TE.Pseudo","TE.Upstream","TE.Downstream","TE.Intergenic"]}, "xOffset": {"field": "type", "type": "nominal"}, "y": {"field": "pct", "type": "quantitative"}}}
      ]
     }
    ]
   },
   {
    "title": {"text": "D", "anchor": "start", "fontSize": 18, "offset": -6},
    "width": 247, "height": 130,
    "data": {"name": "dmr"},
    "layer": [
     {"mark": {"type": "bar"},
      "encoding": {
       "x": {"field": "cat", "type": "nominal", "sort": ["ᵐCG", "ᵐCHG", "ᵐCHH"], "scale": {"paddingInner": 0, "paddingOuter": 0}, "axis": {"title": null, "labelAngle": 0, "labelFontSize": 13, "tickSize": 5}},
       "xOffset": {"field": "type", "type": "nominal", "scale": {"domain": ["Total Windows", "Inherited Windows"], "paddingInner": 0.22, "paddingOuter": 0.89}},
       "y": {"field": "pct", "type": "quantitative", "scale": {"domain": [0, 60], "nice": false}, "axis": {"values": [0, 20, 40, 60], "labelExpr": "datum.value + '%'", "title": ["Percentage of DMRs", "Associated with TE"], "titleFontSize": 12, "titlePadding": 5, "labelFontSize": 13, "labelPadding": 2, "tickSize": 5}},
       "fill": {"field": "type", "type": "nominal", "scale": {"domain": ["Total Windows", "Inherited Windows"], "range": ["#64b45a", "#e10a0a"]},
                "legend": {"title": null, "orient": "top-left", "offset": 4, "symbolType": "square", "symbolSize": 220, "labelFontSize": 13, "rowPadding": 5, "labelOffset": 3, "padding": 0}}
      }},
     {"transform": [{"filter": "datum.sig"}, {"aggregate": [{"op": "max", "field": "pct", "as": "top"}], "groupby": ["cat"]}],
      "mark": {"type": "text", "text": "┌─┴─┐", "fontSize": 9, "dy": -13, "color": "#444"},
      "encoding": {"x": {"field": "cat", "type": "nominal", "sort": ["ᵐCG", "ᵐCHG", "ᵐCHH"]}, "y": {"field": "top", "type": "quantitative"}}},
     {"transform": [{"filter": "datum.sig"}, {"aggregate": [{"op": "max", "field": "pct", "as": "top"}], "groupby": ["cat"]}],
      "mark": {"type": "text", "text": "*", "fontSize": 15, "dy": -27, "color": "#111"},
      "encoding": {"x": {"field": "cat", "type": "nominal", "sort": ["ᵐCG", "ᵐCHG", "ᵐCHH"]}, "y": {"field": "top", "type": "quantitative"}}}
    ]
   }
  ]
 }
]
}
